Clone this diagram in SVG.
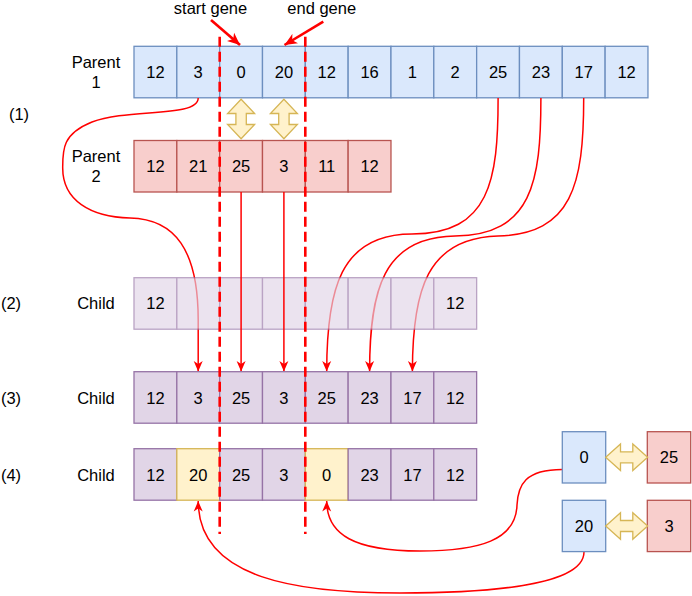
<svg xmlns="http://www.w3.org/2000/svg" width="692" height="596" viewBox="0 0 692 596">
<style>
text{font-family:"Liberation Sans",Arial,sans-serif;font-size:16.5px;fill:#000;text-anchor:middle}
.b{fill:#dae8fc;stroke:#6c8ebf;stroke-width:1.3}
.r{fill:#f8cecc;stroke:#b85450;stroke-width:1.3}
.p{fill:#e1d5e7;stroke:#9673a6;stroke-width:1.3}
.y{fill:#fff2cc;stroke:#d6b656;stroke-width:1.3}
.dbl{fill:#fff2cc;stroke:#d6b656;stroke-width:1.3}
.c{fill:none;stroke:#ff0000;stroke-width:1.5}
.ca{fill:none;stroke:#ff0000;stroke-width:1.5;marker-end:url(#ah)}
.ta{fill:none;stroke:#ff0000;stroke-width:2.6;marker-end:url(#ahb)}
.dash{fill:none;stroke:#ff0000;stroke-width:2.6;stroke-dasharray:10 5}
</style>
<defs>
<marker id="ah" markerUnits="userSpaceOnUse" markerWidth="11" markerHeight="10" viewBox="0 0 11 10" refX="10.5" refY="5" orient="auto">
<path d="M0,0.5 L10.5,5 L0,9.5 L3,5 Z" fill="#ff0000"/>
</marker>
<marker id="ahb" markerUnits="userSpaceOnUse" markerWidth="13" markerHeight="12" viewBox="0 0 13 12" refX="12.5" refY="6" orient="auto">
<path d="M0,0.5 L12.5,6 L0,11.5 L3.5,6 Z" fill="#ff0000"/>
</marker>
</defs>
<rect width="692" height="596" fill="#ffffff"/>

<g id="labels">
<text x="210.5" y="14">start gene</text>
<text x="321.7" y="14">end gene</text>
<text x="96" y="68">Parent</text>
<text x="96" y="88">1</text>
<text x="96" y="162">Parent</text>
<text x="96" y="182">2</text>
<text x="19" y="120">(1)</text>
<text x="11" y="309">(2)</text>
<text x="11" y="403.5">(3)</text>
<text x="11" y="480.5">(4)</text>
<text x="96" y="309">Child</text>
<text x="96" y="403.5">Child</text>
<text x="96" y="480.5">Child</text>
</g>

<g id="parent1">
<rect class="b" x="134" y="46.3" width="42.83" height="51.5"/><text x="155.4" y="78">12</text>
<rect class="b" x="176.83" y="46.3" width="42.83" height="51.5"/><text x="198.2" y="78">3</text>
<rect class="b" x="219.66" y="46.3" width="42.83" height="51.5"/><text x="241.1" y="78">0</text>
<rect class="b" x="262.49" y="46.3" width="42.83" height="51.5"/><text x="283.9" y="78">20</text>
<rect class="b" x="305.32" y="46.3" width="42.83" height="51.5"/><text x="326.7" y="78">12</text>
<rect class="b" x="348.15" y="46.3" width="42.83" height="51.5"/><text x="369.6" y="78">16</text>
<rect class="b" x="390.98" y="46.3" width="42.83" height="51.5"/><text x="412.4" y="78">1</text>
<rect class="b" x="433.81" y="46.3" width="42.83" height="51.5"/><text x="455.2" y="78">2</text>
<rect class="b" x="476.64" y="46.3" width="42.83" height="51.5"/><text x="498.1" y="78">25</text>
<rect class="b" x="519.47" y="46.3" width="42.83" height="51.5"/><text x="540.9" y="78">23</text>
<rect class="b" x="562.3" y="46.3" width="42.83" height="51.5"/><text x="583.7" y="78">17</text>
<rect class="b" x="605.13" y="46.3" width="42.83" height="51.5"/><text x="626.6" y="78">12</text>
</g>

<g id="parent2">
<rect class="r" x="134" y="140.5" width="42.83" height="51.5"/><text x="155.4" y="172">12</text>
<rect class="r" x="176.83" y="140.5" width="42.83" height="51.5"/><text x="198.2" y="172">21</text>
<rect class="r" x="219.66" y="140.5" width="42.83" height="51.5"/><text x="241.1" y="172">25</text>
<rect class="r" x="262.49" y="140.5" width="42.83" height="51.5"/><text x="283.9" y="172">3</text>
<rect class="r" x="305.32" y="140.5" width="42.83" height="51.5"/><text x="326.7" y="172">11</text>
<rect class="r" x="348.15" y="140.5" width="42.83" height="51.5"/><text x="369.6" y="172">12</text>
</g>

<g id="swap-top">
<polygon class="dbl" points="241.1,99.3 254.6,113.5 246.3,113.5 246.3,124.5 254.6,124.5 241.1,138.7 227.6,124.5 235.9,124.5 235.9,113.5 227.6,113.5"/>
<polygon class="dbl" points="283.9,99.3 297.4,113.5 289.1,113.5 289.1,124.5 297.4,124.5 283.9,138.7 270.4,124.5 278.7,124.5 278.7,113.5 270.4,113.5"/>
</g>

<g id="connectors-under">
<path class="ca" d="M198.2,98 C198.2,118 128,108 92,122 C62,134 62.7,150 62.7,168 C62.7,200 90,217 130,218 C175,219 198.2,250 198.2,320 L198.2,371.5"/>
<path class="ca" d="M498.1,98 C498.1,180 490,234 412,234 C340,234 326.7,290 326.7,371.5"/>
<path class="ca" d="M540.9,98 C540.9,182 532,235 455,236 C383,237 369.6,290 369.6,371.5"/>
<path class="ca" d="M583.7,98 C583.7,185 572,234 498,236 C427,238 412.4,290 412.4,371.5"/>
</g>

<g id="child2" opacity="0.65">
<rect class="p" x="134" y="277.7" width="42.83" height="51.5"/>
<rect class="p" x="176.83" y="277.7" width="42.83" height="51.5"/>
<rect class="p" x="219.66" y="277.7" width="42.83" height="51.5"/>
<rect class="p" x="262.49" y="277.7" width="42.83" height="51.5"/>
<rect class="p" x="305.32" y="277.7" width="42.83" height="51.5"/>
<rect class="p" x="348.15" y="277.7" width="42.83" height="51.5"/>
<rect class="p" x="390.98" y="277.7" width="42.83" height="51.5"/>
<rect class="p" x="433.81" y="277.7" width="42.83" height="51.5"/>
</g>
<g id="child2-text">
<text x="155.4" y="309.3">12</text>
<text x="455.2" y="309.3">12</text>
</g>

<g id="connectors">
<path class="ca" d="M241.1,192 L241.1,371.5"/>
<path class="ca" d="M283.9,192 L283.9,371.5"/>
<path class="ca" d="M562.3,469.5 C525,469.5 518,485 517,505 C516,540 480,551 420,551 C355,551 326.7,535 326.7,501"/>
<path class="ca" d="M584,552 C584,590 460,593 400,593 C300,593 198.2,580 198.2,501"/>
<path class="ta" d="M211,20 L240,45"/>
<path class="ta" d="M323.3,21.7 L284.5,45"/>
</g>

<g id="child3">
<rect class="p" x="134" y="371.7" width="42.83" height="51.5"/><text x="155.4" y="403.5">12</text>
<rect class="p" x="176.83" y="371.7" width="42.83" height="51.5"/><text x="198.2" y="403.5">3</text>
<rect class="p" x="219.66" y="371.7" width="42.83" height="51.5"/><text x="241.1" y="403.5">25</text>
<rect class="p" x="262.49" y="371.7" width="42.83" height="51.5"/><text x="283.9" y="403.5">3</text>
<rect class="p" x="305.32" y="371.7" width="42.83" height="51.5"/><text x="326.7" y="403.5">25</text>
<rect class="p" x="348.15" y="371.7" width="42.83" height="51.5"/><text x="369.6" y="403.5">23</text>
<rect class="p" x="390.98" y="371.7" width="42.83" height="51.5"/><text x="412.4" y="403.5">17</text>
<rect class="p" x="433.81" y="371.7" width="42.83" height="51.5"/><text x="455.2" y="403.5">12</text>
</g>

<g id="child4">
<rect class="p" x="134" y="448.7" width="42.83" height="51.5"/><text x="155.4" y="480.5">12</text>
<rect class="y" x="176.83" y="448.7" width="42.83" height="51.5"/><text x="198.2" y="480.5">20</text>
<rect class="p" x="219.66" y="448.7" width="42.83" height="51.5"/><text x="241.1" y="480.5">25</text>
<rect class="p" x="262.49" y="448.7" width="42.83" height="51.5"/><text x="283.9" y="480.5">3</text>
<rect class="y" x="305.32" y="448.7" width="42.83" height="51.5"/><text x="326.7" y="480.5">0</text>
<rect class="p" x="348.15" y="448.7" width="42.83" height="51.5"/><text x="369.6" y="480.5">23</text>
<rect class="p" x="390.98" y="448.7" width="42.83" height="51.5"/><text x="412.4" y="480.5">17</text>
<rect class="p" x="433.81" y="448.7" width="42.83" height="51.5"/><text x="455.2" y="480.5">12</text>
</g>

<g id="gene-0"><rect class="b" x="562.3" y="431.7" width="43.4" height="51.3"/><text x="584" y="463.3">0</text></g>
<g id="gene-25"><rect class="r" x="647.3" y="431.7" width="43.4" height="51.3"/><text x="669" y="463.3">25</text></g>
<g id="gene-20"><rect class="b" x="562.3" y="500.3" width="43.4" height="51.3"/><text x="584" y="531.8">20</text></g>
<g id="gene-3"><rect class="r" x="647.3" y="500.3" width="43.4" height="51.3"/><text x="669" y="531.8">3</text></g>

<g id="swap-right">
<polygon class="dbl" points="605.7,457.3 620.5,444 620.5,451.8 632.8,451.8 632.8,444 647.6,457.3 632.8,470.6 632.8,462.8 620.5,462.8 620.5,470.6"/>
<polygon class="dbl" points="605.7,526 620.5,512.7 620.5,520.5 632.8,520.5 632.8,512.7 647.6,526 632.8,539.3 632.8,531.5 620.5,531.5 620.5,539.3"/>
</g>

<g id="cut-lines">
<path class="dash" d="M219.7,36.7 L219.7,534"/>
<path class="dash" d="M305.3,36.7 L305.3,534"/>
</g>
</svg>
